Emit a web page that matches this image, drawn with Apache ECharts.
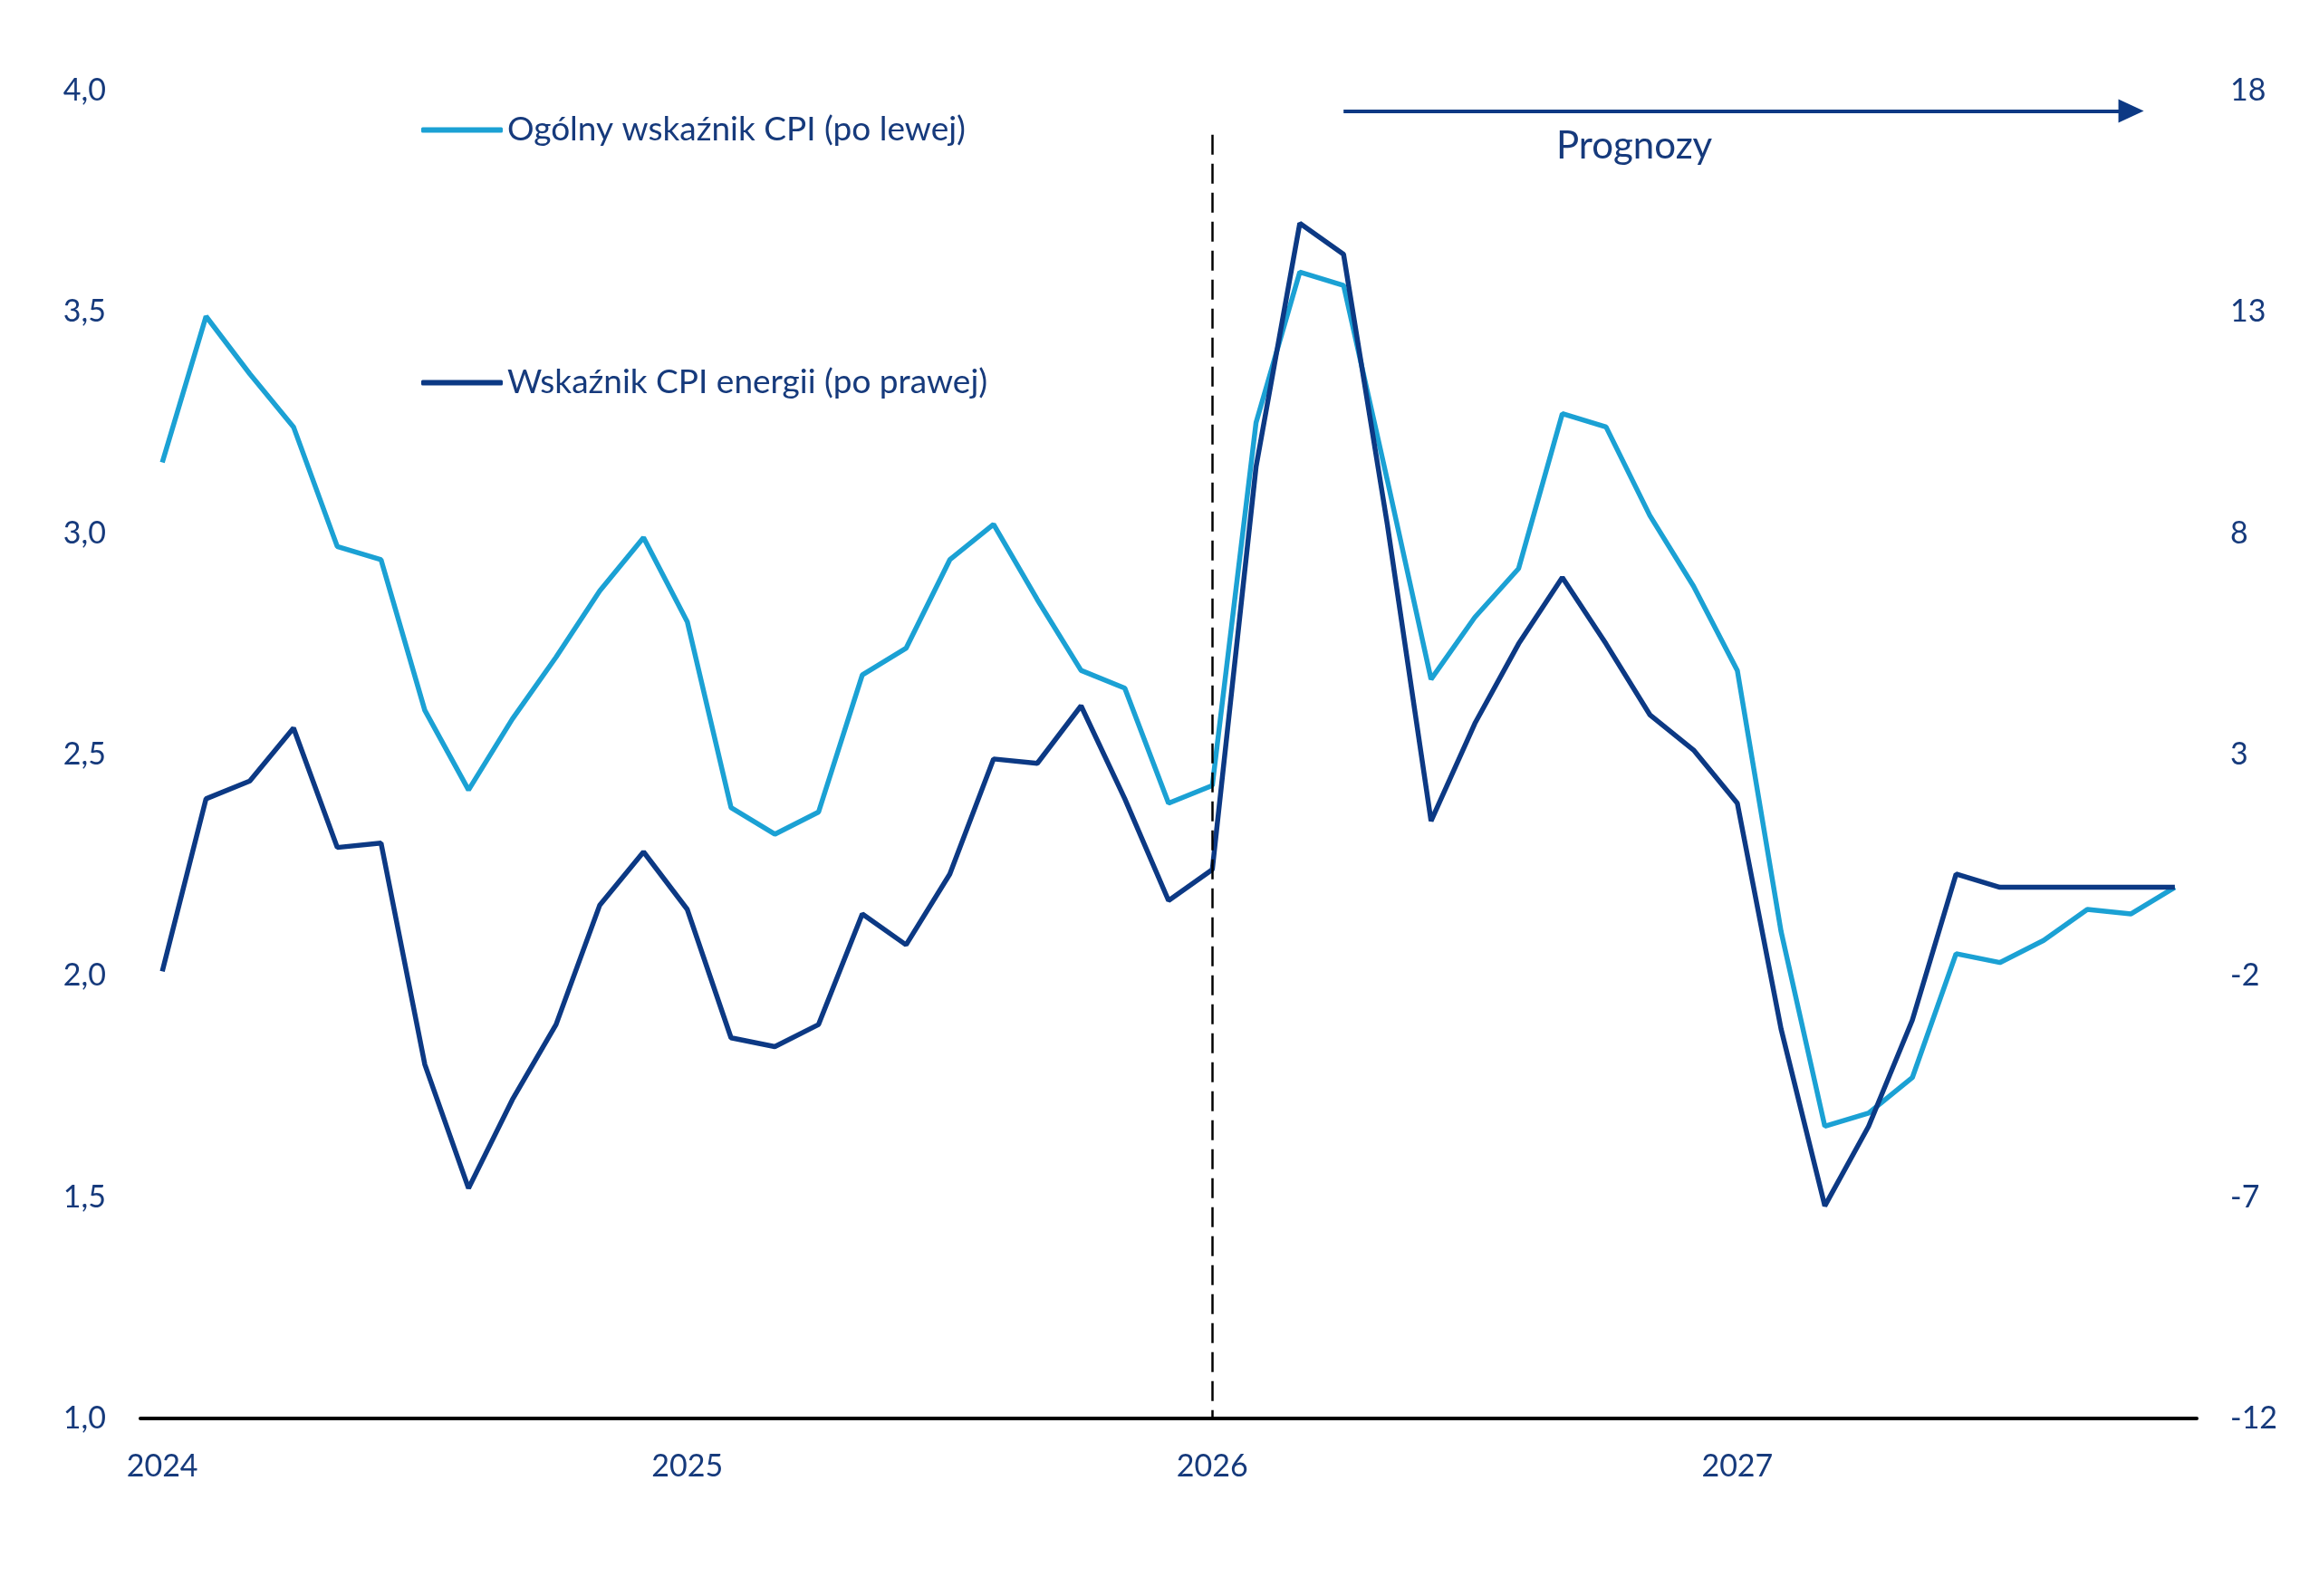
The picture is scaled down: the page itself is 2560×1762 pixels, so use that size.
<!DOCTYPE html>
<html>
<head>
<meta charset="utf-8">
<script src="https://cdn.jsdelivr.net/npm/echarts@6/dist/echarts.min.js"></script>
<style>
  html, body { margin: 0; padding: 0; background: #fff; }
  #chart { width: 2560px; height: 1762px; }
</style>
</head>
<body>
<div id="chart"></div>
<script>
// miesiące: 2024-01 .. 2027-11
const months = [];
for (let y = 2024; y <= 2027; y++) {
  for (let m = 1; m <= 12; m++) {
    if (y === 2027 && m === 12) break;
    months.push(y + '-' + String(m).padStart(2, '0'));
  }
}

// Ogólny wskaźnik CPI (lewa oś)
const cpiTotal = [
  3.16, 3.49, 3.36, 3.24, 2.97, 2.94, 2.60, 2.42, 2.58, 2.72, 2.87, 2.99,
  2.80, 2.38, 2.32, 2.37, 2.68, 2.74, 2.94, 3.02, 2.85, 2.69, 2.65, 2.39,
  2.43, 3.25, 3.59, 3.56, 3.12, 2.67, 2.81, 2.92, 3.27, 3.24, 3.04, 2.88,
  2.69, 2.10, 1.66, 1.69, 1.77, 2.05, 2.03, 2.08, 2.15, 2.14, 2.20
];

// Wskaźnik CPI energii (prawa oś)
const cpiEnergy = [
  -1.9, 2.0, 2.4, 3.6, 0.9, 1.0, -4.0, -6.8, -4.8, -3.1, -0.4, 0.8,
  -0.5, -3.4, -3.6, -3.1, -0.6, -1.3, 0.3, 2.9, 2.8, 4.1, 2.0, -0.3,
  0.4, 9.5, 15.0, 14.3, 8.2, 1.5, 3.7, 5.5, 7.0, 5.5, 3.9, 3.1,
  1.9, -3.2, -7.2, -5.4, -3.0, 0.3, 0.0, 0.0, 0.0, 0.0, 0.0
];

const seriesNames = ['Ogólny wskaźnik CPI (po lewej)', 'Wskaźnik CPI energii (po prawej)'];

const LIGHT = '#1ba1d4';
const DARK = '#0c3984';
const TEXT = '#163a7c';
const FONT = 'Lato, "Open Sans", sans-serif';

const chart = echarts.init(document.getElementById('chart'));

const option = {
  backgroundColor: '#ffffff',
  animation: false,
  textStyle: { fontFamily: FONT },
  grid: { left: 155, right: 135, top: 100, bottom: 196 },
  legend: [
    {
      data: [seriesNames[0]],
      left: 460, top: 120,
      icon: 'roundRect', itemWidth: 90, itemHeight: 6, itemGap: 10,
      textStyle: { color: TEXT, fontSize: 37, fontFamily: FONT }
    },
    {
      data: [seriesNames[1]],
      left: 460, top: 399,
      icon: 'roundRect', itemWidth: 90, itemHeight: 6, itemGap: 10,
      textStyle: { color: TEXT, fontSize: 37, fontFamily: FONT }
    }
  ],
  xAxis: {
    type: 'category',
    data: months,
    boundaryGap: true,
    axisLine: { show: true, onZero: false, lineStyle: { color: '#000', width: 4 } },
    axisTick: { show: false },
    splitLine: { show: false },
    axisLabel: {
      color: TEXT, fontSize: 34, margin: 36,
      interval: (i) => i % 12 === 0,
      formatter: (v) => v.slice(0, 4)
    }
  },
  yAxis: [
    {
      type: 'value',
      min: 1, max: 4, interval: 0.5,
      axisLine: { show: false },
      axisTick: { show: false },
      splitLine: { show: false },
      axisLabel: {
        color: TEXT, fontSize: 34, margin: 38,
        formatter: (v) => v.toFixed(1).replace('.', ',')
      }
    },
    {
      type: 'value',
      min: -12, max: 18,
      alignTicks: true,
      axisLine: { show: false },
      axisTick: { show: false },
      splitLine: { show: false },
      axisLabel: {
        color: TEXT, fontSize: 34, margin: 37,
        formatter: (v) => String(Math.round(v))
      }
    }
  ],
  series: [
    {
      name: seriesNames[0],
      type: 'line',
      yAxisIndex: 0,
      data: cpiTotal,
      showSymbol: false,
      lineStyle: { color: LIGHT, width: 5.5 },
      itemStyle: { color: LIGHT },
      z: 2,
      markLine: {
        silent: true,
        symbol: ['none', 'none'],
        label: { show: false },
        lineStyle: { color: '#000', width: 2.5, type: [22, 10] },
        data: [
          [{ coord: [24, 3.9] }, { coord: [24, 1.0] }]
        ]
      }
    },
    {
      name: seriesNames[1],
      type: 'line',
      yAxisIndex: 1,
      data: cpiEnergy,
      showSymbol: false,
      lineStyle: { color: DARK, width: 5.5 },
      itemStyle: { color: DARK },
      z: 3,
      markLine: {
        silent: true,
        symbol: ['none', 'triangle'],
        symbolSize: [26, 28],
        symbolOffset: [-8, 0],
        label: { show: false },
        lineStyle: { color: DARK, width: 4, type: 'solid' },
        data: [
          [{ coord: [27, 17.54] }, { coord: [45, 17.54] }]
        ]
      }
    }
  ],
  graphic: [
    {
      type: 'text',
      left: 1718, top: 140,
      style: { text: 'Prognozy', fill: TEXT, font: '42px ' + FONT }
    }
  ]
};

chart.setOption(option);
</script>
</body>
</html>
